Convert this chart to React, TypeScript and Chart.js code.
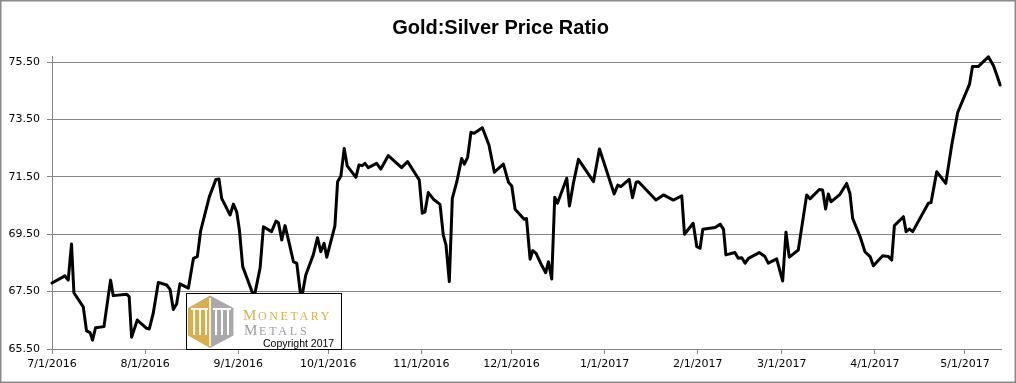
import React, { useEffect, useRef } from "react";
import { Chart, registerables } from "chart.js";

Chart.register(...registerables);

// Title and axis labels
const chartTitle = "Gold:Silver Price Ratio";
const startDate = "7/1/2016";
const tickLabels = [
  "7/1/2016", "8/1/2016", "9/1/2016", "10/1/2016", "11/1/2016", "12/1/2016",
  "1/1/2017", "2/1/2017", "3/1/2017", "4/1/2017", "5/1/2017",
];
const yTickValues = [65.5, 67.5, 69.5, 71.5, 73.5, 75.5];
const yMin = 65.5;
const yMax = 75.71;
const xMaxDays = 316;

// Days elapsed since 7/1/2016 for each observation
const dayOffsets = [
  0, 4.3, 5.4, 6.5, 7.3, 10.4, 11.5, 12.7, 13.5, 14.5, 17.3, 19.5, 20.4, 24.9, 25.7, 26.5,
  28.4, 31.5, 32.4, 33.7, 35.4, 38.2, 39.3, 40.4, 41.5, 42.6, 45.4, 47.1, 48.4, 49.5, 52.4,
  54.6, 55.6, 56.5, 59.3, 60.4, 61.5, 62.4, 63.5, 67.3, 69.3, 70.4, 73.1, 74.6, 75.4, 76.5,
  77.6, 79.0, 80.4, 81.5, 83.0, 84.5, 87.0, 88.4, 89.5, 90.6, 91.5, 94.2, 95.1, 96.2, 97.3,
  98.3, 101.2, 102.2, 103.3, 104.2, 105.3, 108.1, 109.5, 112.0, 116.4, 118.4, 122.3, 123.3,
  124.2, 125.3, 127.0, 129.2, 130.3, 131.2, 132.3, 133.3, 134.8, 136.4, 137.3, 138.4, 139.5,
  140.6, 143.3, 145.5, 147.3, 150.3, 152.0, 153.1, 154.2, 155.8, 157.2, 158.0, 159.2, 160.1,
  161.2, 162.7, 164.4, 165.3, 166.4, 167.4, 168.3, 171.4, 172.3, 173.6, 175.3, 180.3, 182.3,
  187.2, 188.4, 189.4, 192.2, 193.3, 194.5, 195.3, 201.1, 203.6, 206.9, 209.7, 210.6, 213.5,
  214.7, 215.8, 216.7, 220.8, 222.5, 223.6, 224.4, 227.4, 228.5, 229.7, 230.8, 231.9, 235.5,
  237.4, 238.5, 241.3, 243.3, 244.4, 245.5, 248.5, 251.3, 252.4, 255.5, 256.6, 257.6, 258.5,
  259.4, 262.4, 264.6, 265.7, 266.6, 269.1, 270.7, 272.4, 273.5, 276.6, 278.5, 279.6, 280.5,
  283.5, 284.4, 285.5, 286.6, 291.8, 292.7, 294.6, 297.6, 299.6, 301.6, 305.5, 306.5, 308.4,
  311.8, 313.5, 314.6, 315.7,
];

// Gold:Silver ratio values
const ratios = [
  67.80, 68.05, 67.90, 69.16, 67.46, 66.97, 66.13, 66.07, 65.81, 66.24, 66.28, 67.90, 67.36, 67.41, 67.32, 65.91,
  66.51, 66.22, 66.20, 66.74, 67.82, 67.73, 67.58, 66.88, 67.07, 67.77, 67.62, 68.66, 68.72, 69.62, 70.81,
  71.41, 71.42, 70.75, 70.17, 70.55, 70.28, 69.65, 68.37, 67.30, 68.33, 69.76, 69.59, 69.96, 69.90, 69.30,
  69.80, 69.18, 68.54, 68.49, 67.20, 68.08, 68.78, 69.38, 68.89, 69.18, 68.70, 69.79, 71.33, 71.53, 72.49,
  71.88, 71.48, 71.91, 71.89, 71.97, 71.82, 71.97, 71.77, 72.24, 71.82, 72.03, 71.39, 70.23,
  70.28, 70.95, 70.72, 70.54, 69.47, 69.12, 67.85, 70.75, 71.33, 72.14, 71.94, 72.18, 73.05,
  73.02, 73.21, 72.61, 71.66, 71.94, 71.31, 71.18, 70.37, 70.19, 70.02, 70.05, 68.63, 68.93,
  68.83, 68.49, 68.16, 68.54, 67.94, 70.79, 70.58, 71.45, 70.48, 71.27, 72.11, 71.33, 72.47,
  70.90, 71.21, 71.16, 71.41, 70.77, 71.31, 71.33, 70.69, 70.87, 70.69, 70.84, 69.50, 69.88,
  69.07, 69.01, 69.67, 69.73, 69.85, 69.67, 68.78, 68.86, 68.66, 68.68, 68.49, 68.66, 68.86,
  68.72, 68.49, 68.64, 67.87, 69.57, 68.70, 68.95, 70.87, 70.73, 71.06, 71.04, 70.38, 70.90,
  70.63, 70.89, 71.27, 70.92, 70.05, 69.41, 68.89, 68.72, 68.40, 68.75, 68.72, 68.60, 69.80,
  70.11, 69.59, 69.68, 69.59, 70.58, 70.60, 71.68, 71.27, 72.61, 73.75, 74.72, 75.34, 75.34,
  75.68, 75.37, 75.05, 74.70,
];

function parseMDY(s: string): number {
  const [m, d, y] = s.split("/").map(Number);
  return Date.UTC(y, m - 1, d);
}
function labelToDay(label: string): number {
  return Math.round((parseMDY(label) - parseMDY(startDate)) / 86400000);
}

const GRID = "#868686";
const TICK_FONT = { family: "'DejaVu Sans', Verdana, sans-serif", size: 11 };

const framePlugin = {
  id: "frame",
  beforeDraw(chart: any) {
    const ctx = chart.ctx;
    ctx.save();
    ctx.fillStyle = "#ffffff";
    ctx.fillRect(0, 0, chart.width, chart.height);
    ctx.restore();
  },
  afterDraw(chart: any) {
    const ctx = chart.ctx;
    ctx.save();
    ctx.strokeStyle = "#8a8a8a";
    ctx.lineWidth = 1.5;
    ctx.strokeRect(0.75, 0.75, chart.width - 1.5, chart.height - 1.5);
    ctx.restore();
  },
};

const logoPlugin = {
  id: "logo",
  afterDatasetsDraw(chart: any) {
    const ctx = chart.ctx;
    ctx.save();
    // box
    ctx.fillStyle = "#ffffff";
    ctx.fillRect(186, 293, 155, 56);
    ctx.strokeStyle = "#000";
    ctx.lineWidth = 1;
    ctx.strokeRect(186.5, 293.5, 155, 56);

    // hexagon halves
    const gold = "#D5B04B";
    const gray = "#A9A9A9";
    ctx.fillStyle = gold;
    ctx.beginPath();
    ctx.moveTo(210, 295.5);
    ctx.lineTo(188, 308);
    ctx.lineTo(188, 335.5);
    ctx.lineTo(210, 348);
    ctx.closePath();
    ctx.fill();
    ctx.fillStyle = gray;
    ctx.beginPath();
    ctx.moveTo(210, 295.5);
    ctx.lineTo(233.5, 308);
    ctx.lineTo(233.5, 335.5);
    ctx.lineTo(210, 348);
    ctx.closePath();
    ctx.fill();
    // inner white stripes
    ctx.fillStyle = "#ffffff";
    ctx.fillRect(209.2, 298, 1.6, 48);
    const stripes = [193, 199, 205, 215, 221, 227];
    stripes.forEach((sx) => {
      ctx.fillRect(sx, 310, 2, 25);
    });
    ctx.fillRect(191, 308, 17, 2);
    ctx.fillRect(213, 308, 18, 2);

    // text
    ctx.textBaseline = "alphabetic";
    const serif = "'Liberation Serif', 'DejaVu Serif', serif";
    ctx.fillStyle = "#D8B14A";
    ctx.font = `15px ${serif}`;
    (ctx as any).letterSpacing = "0px";
    ctx.fillText("M", 243, 319.5);
    ctx.font = `12px ${serif}`;
    (ctx as any).letterSpacing = "2.6px";
    ctx.fillText("ONETARY", 258, 319.5);
    ctx.fillStyle = "#9C9C9C";
    ctx.font = `15px ${serif}`;
    (ctx as any).letterSpacing = "0px";
    ctx.fillText("M", 244, 334.5);
    ctx.font = `12px ${serif}`;
    (ctx as any).letterSpacing = "2.8px";
    ctx.fillText("ETALS", 259, 334.5);
    (ctx as any).letterSpacing = "0px";
    ctx.fillStyle = "#000";
    ctx.font = "10.5px 'Liberation Sans', Arial, sans-serif";
    ctx.fillText("Copyright 2017", 263, 346.5);
    ctx.restore();
  },
};

export default function App() {
  const canvasRef = useRef<HTMLCanvasElement | null>(null);

  useEffect(() => {
    if (!canvasRef.current) return;
    const points = dayOffsets.map((d, i) => ({ x: d, y: ratios[i] }));
    const chart = new Chart(canvasRef.current, {
      type: "line",
      data: {
        datasets: [
          {
            label: chartTitle,
            data: points,
            borderColor: "#000000",
            backgroundColor: "#000000",
            borderWidth: 3,
            pointRadius: 0,
            tension: 0,
            borderJoinStyle: "round",
            borderCapStyle: "round",
            clip: 6,
          } as any,
        ],
      },
      options: {
        animation: false,
        responsive: false,
        events: [],
        layout: {
          padding: { left: 0, right: 15, top: 0, bottom: 0 },
          autoPadding: false,
        } as any,
        plugins: {
          legend: { display: false },
          tooltip: { enabled: false },
          title: {
            display: true,
            text: chartTitle,
            color: "#000000",
            font: {
              family: "'Liberation Sans Narrow', 'Arial Narrow', 'Liberation Sans', sans-serif",
              size: 20,
              weight: "bold",
            },
            padding: { top: 16, bottom: 16 },
          },
        },
        scales: {
          x: {
            type: "linear",
            min: 0,
            max: xMaxDays,
            afterBuildTicks: (scale: any) => {
              scale.ticks = tickLabels.map((l) => ({ value: labelToDay(l) }));
            },
            afterFit: (scale: any) => {
              scale.height = 34;
            },
            ticks: {
              autoSkip: false,
              maxRotation: 0,
              minRotation: 0,
              padding: 4,
              color: "#000000",
              font: TICK_FONT,
              callback: (_v: any, i: number) => tickLabels[i],
            },
            grid: {
              drawOnChartArea: false,
              drawTicks: true,
              tickLength: 5,
              color: GRID,
              lineWidth: 1,
            },
            border: { display: true, color: GRID, width: 1 },
          },
          y: {
            type: "linear",
            min: yMin,
            max: yMax,
            afterBuildTicks: (scale: any) => {
              scale.ticks = yTickValues.map((v) => ({ value: v }));
            },
            afterFit: (scale: any) => {
              scale.width = 52;
            },
            ticks: {
              padding: 7,
              color: "#000000",
              font: TICK_FONT,
              callback: (v: any) => Number(v).toFixed(2),
            },
            grid: {
              color: GRID,
              lineWidth: 1,
              tickLength: 5,
              drawTicks: true,
            },
            border: { display: true, color: GRID, width: 1 },
          },
        },
      } as any,
      plugins: [framePlugin, logoPlugin],
    });
    return () => chart.destroy();
  }, []);

  return (
    <div style={{ position: "fixed", left: 0, top: 0, width: 1016, height: 383, background: "#fff" }}>
      <canvas ref={canvasRef} width={1016} height={383} style={{ display: "block", width: 1016, height: 383 }} />
    </div>
  );
}
